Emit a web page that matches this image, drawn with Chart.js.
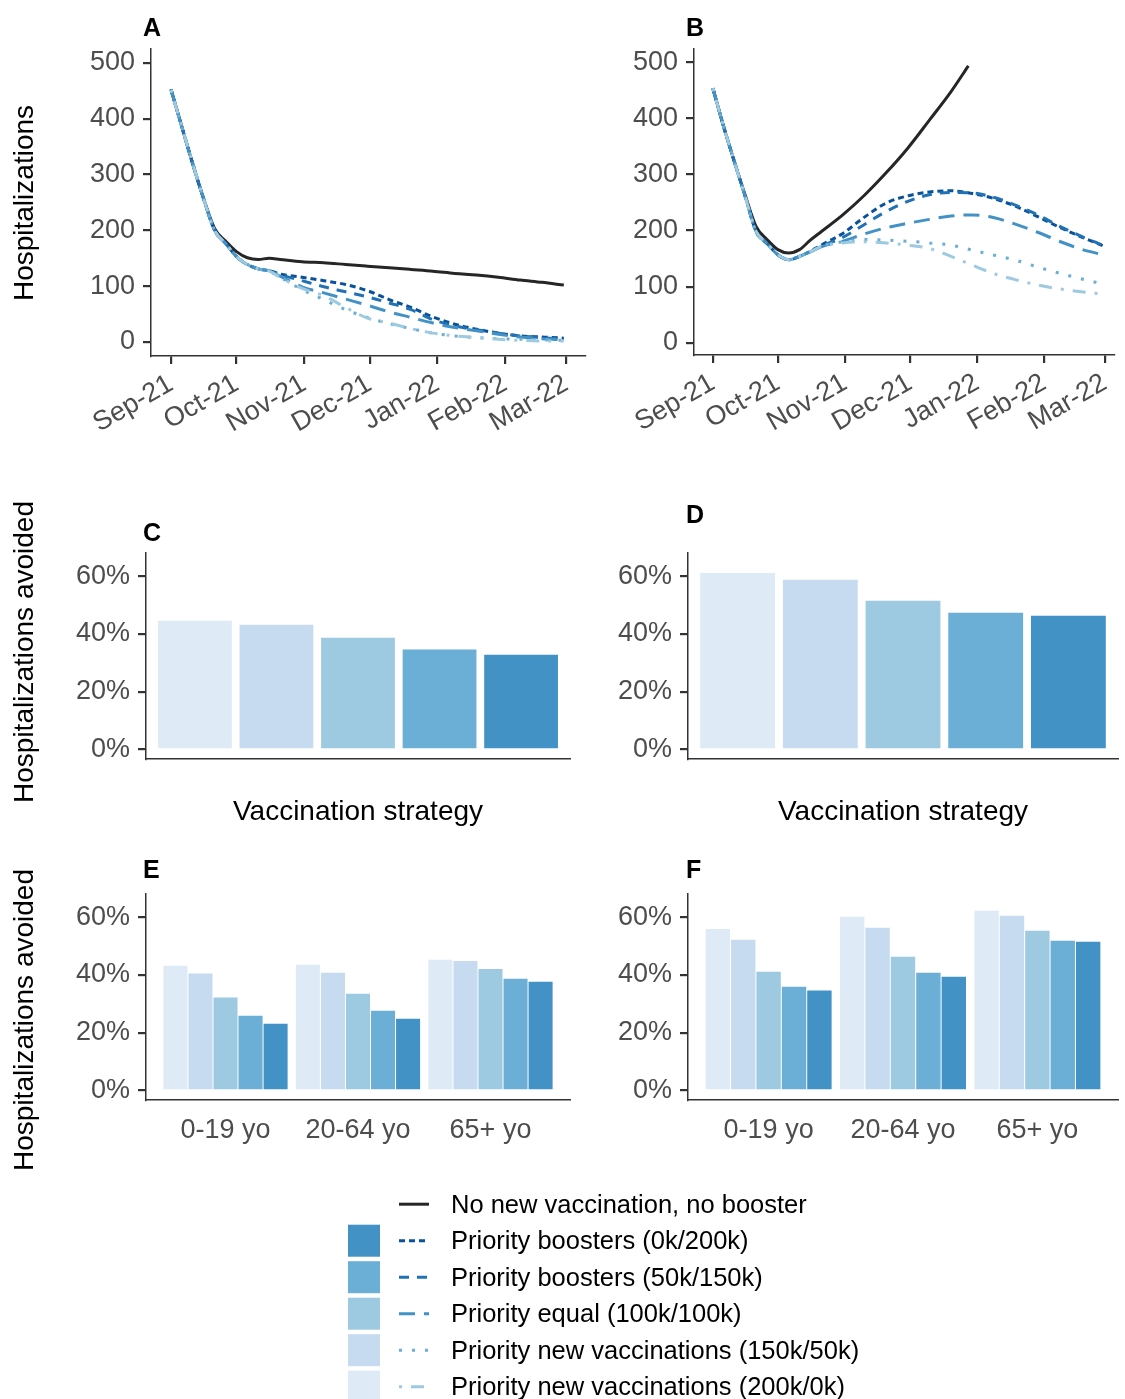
<!DOCTYPE html>
<html><head><meta charset="utf-8">
<script src="https://cdn.jsdelivr.net/npm/chart.js@4.4.0/dist/chart.umd.min.js"></script>
<style>
html,body{margin:0;padding:0;background:#fff;overflow:hidden;width:1125px;height:1399px;}
body{position:relative;font-family:"Liberation Sans",Arial,Helvetica,sans-serif;}
canvas{position:absolute;}
.t{position:absolute;white-space:nowrap;line-height:1;color:#000;}
.lt{font-weight:bold;font-size:25px;}
.ax{font-size:28px;}
.lg{font-size:25.5px;}
.rot{transform:rotate(-90deg);transform-origin:50% 50%;text-align:center;}
</style></head><body>
<canvas id="cA"></canvas><canvas id="cB"></canvas>
<canvas id="cC"></canvas><canvas id="cD"></canvas>
<canvas id="cE"></canvas><canvas id="cF"></canvas>
<div id="overlay"></div>
<script>
// ---------- data ----------
const strategies = ['Priority new vaccinations (200k/0k)','Priority new vaccinations (150k/50k)','Priority equal (100k/100k)','Priority boosters (50k/150k)','Priority boosters (0k/200k)'];
const noVaxLabel = 'No new vaccination, no booster';
const barColors = ['#deebf7','#c6dbef','#9ecae1','#6baed6','#4292c6'];
const lineColors = ['#9ecae1','#6baed6','#4292c6','#2171b5','#08519c'];
const lineDashes = [[3,9,13,9],[3,10],[16,9],[10,8],[6,4]];
const noVaxColor = '#262626';

const days = [0,5,10,15,20,25,30,35,40,45,50,60,70,80,90,100,110,120,130,140,150,160,170,180];
const monthTickDays = [0,30,61,91,122,153,181];
const monthLabels = ['Sep-21','Oct-21','Nov-21','Dec-21','Jan-22','Feb-22','Mar-22'];
const hospTicks = [0,100,200,300,400,500];
const pctTicks = [0,20,40,60];
const ageGroups = ['0-19 yo','20-64 yo','65+ yo'];

// Panel A (hospitalizations)
const aNoVax    = [453,385,318,256,203,181,162,151,148,150,148,144,142,139,136,133,130,127,123,120,116,111,107,102];
const aNew200k  = [452,385,319,256,200,177,153,139,131,127,116,96,83,62,43,34,24,16,11,8,5,3,2,2];
const aNew150k  = [452,385,319,256,200,177,153,139,131,127,116,94,76,58,44,33,24,16,11,8,6,5,4,3];
const aEqual    = [452,385,319,256,200,177,153,139,131,127,118,99,88,77,66,54,44,34,26,20,14,9,6,4];
const aBoost150 = [452,385,319,256,200,177,153,139,131,128,121,110,99,90,81,70,58,40,29,22,16,11,8,5];
const aBoost200 = [452,385,319,256,200,177,153,139,131,128,122,116,110,103,92,76,62,45,32,23,16,11,9,7];

// Panel B (hospitalizations)
const bNoVaxDays = [0,5,10,15,20,25,30,35,40,45,50,60,70,80,90,100,110,118];
const bNoVax     = [454,385,322,262,207,184,166,160,166,183,198,228,263,303,347,397,448,494];
const bNew200k  = [454,385,322,260,198,177,157,148,154,162,172,178,180,178,174,168,154,138,123,112,103,96,91,87];
const bNew150k  = [454,385,322,260,198,177,157,148,154,162,172,180,184,183,181,178,174,165,156,147,135,124,114,105];
const bEqual    = [454,385,322,260,198,177,157,148,154,162,171,181,194,205,213,220,226,228,223,211,197,181,167,157];
const bBoost150 = [454,385,322,260,198,177,157,148,154,162,172,188,211,234,252,264,268,267,259,245,228,208,190,174];
const bBoost200 = [454,385,322,260,198,177,157,148,154,163,174,195,224,249,262,269,271,266,257,243,225,206,189,173];

// Panels C, D (% hospitalizations avoided, order = strategies)
const cAvoided = [44.6,43.2,38.7,34.6,32.8];
const dAvoided = [61.2,58.8,51.5,47.4,46.3];

// Panels E, F (% avoided by age group, one array per strategy)
const eNew200k  = [43.2,43.6,45.3];
const eNew150k  = [40.5,40.8,44.9];
const eEqual    = [32.2,33.5,42.1];
const eBoost150 = [25.9,27.6,38.7];
const eBoost200 = [23.1,24.8,37.7];
const fNew200k  = [56.0,60.2,62.3];
const fNew150k  = [52.2,56.4,60.6];
const fEqual    = [41.1,46.3,55.4];
const fBoost150 = [35.9,40.8,51.9];
const fBoost200 = [34.6,39.4,51.5];

// ---------- drawing ----------
const FONT = '"Liberation Sans", Arial, Helvetica, sans-serif';
const TICKC = '#4d4d4d';
const AXC = '#333333';

function setup(id, box) {
  const c = document.getElementById(id);
  c.width = box.w; c.height = box.h;
  c.style.left = box.x + 'px'; c.style.top = box.y + 'px';
  c.style.width = box.w + 'px'; c.style.height = box.h + 'px';
  return c;
}

function baseY(ticks, ymin, ymax, yw, fmt) {
  return {
    type: 'linear', min: ymin, max: ymax,
    afterBuildTicks: s => { s.ticks = ticks.map(v => ({value: v})); },
    afterFit: s => { s.width = yw; },
    grid: {display: true, drawOnChartArea: false, drawTicks: true, tickLength: 8, color: AXC, lineWidth: 2.2},
    border: {display: true, color: AXC, width: 1.5},
    ticks: {font: {size: 27, family: FONT}, color: TICKC, padding: 8, callback: fmt}
  };
}

function lineChart(id, box, area, xmin, xmax, ymin, ymax, series, noVaxDays, noVax) {
  const c = setup(id, box);
  const datasets = series.map((vals, k) => ({
    data: vals.map((v, i) => ({x: days[i], y: v})),
    borderColor: lineColors[k], borderDash: lineDashes[k], borderWidth: 3,
    pointRadius: 0, cubicInterpolationMode: 'monotone', fill: false, borderCapStyle: 'butt'
  }));
  datasets.push({
    data: noVax.map((v, i) => ({x: noVaxDays[i], y: v})),
    borderColor: noVaxColor, borderWidth: 3, pointRadius: 0,
    cubicInterpolationMode: 'monotone', fill: false
  });
  return new Chart(c, {
    type: 'line',
    data: {datasets},
    options: {
      responsive: false, animation: false, devicePixelRatio: 1,
      layout: {padding: {left: 0, top: area.top - box.y, right: box.x + box.w - area.right, bottom: 0}},
      plugins: {legend: {display: false}, tooltip: {enabled: false}},
      scales: {
        x: {
          type: 'linear', min: xmin, max: xmax, offset: false,
          afterBuildTicks: s => { s.ticks = monthTickDays.map(v => ({value: v})); },
          afterFit: s => { s.height = box.y + box.h - area.bottom; },
          grid: {display: true, drawOnChartArea: false, drawTicks: true, tickLength: 8, color: AXC, lineWidth: 2.2, offset: false},
          border: {display: true, color: AXC, width: 1.5},
          ticks: {autoSkip: false, minRotation: 30, maxRotation: 30, padding: 4,
                  font: {size: 27, family: FONT}, color: TICKC,
                  callback: (v, i) => monthLabels[i]}
        },
        y: baseY(hospTicks, ymin, ymax, area.left - box.x, v => String(v))
      }
    }
  });
}

function barChart(id, box, area, groups, datasetsVals, single) {
  const c = setup(id, box);
  let datasets;
  if (single) {
    datasets = [{
      data: datasetsVals.map((v, i) => ({x: i + 1, y: v})),
      backgroundColor: barColors, borderWidth: 0,
      categoryPercentage: 1, barPercentage: 0.905
    }];
  } else {
    datasets = datasetsVals.map((vals, k) => ({
      data: vals.map((v, i) => ({x: i + 1, y: v})),
      backgroundColor: barColors[k], borderWidth: 0,
      categoryPercentage: 0.945, barPercentage: 0.96
    }));
  }
  const n = single ? datasetsVals.length : groups.length;
  return new Chart(c, {
    type: 'bar',
    data: {datasets},
    options: {
      responsive: false, animation: false, devicePixelRatio: 1,
      layout: {padding: {left: 0, top: area.top - box.y, right: box.x + box.w - area.right, bottom: 0}},
      plugins: {legend: {display: false}, tooltip: {enabled: false}},
      scales: {
        x: {
          type: 'linear', min: 0.4, max: n + 0.6, offset: false,
          afterBuildTicks: s => { s.ticks = (single ? [] : groups.map((g, i) => ({value: i + 1}))); },
          afterFit: s => { s.height = box.y + box.h - area.bottom; },
          grid: {display: true, drawOnChartArea: false, drawTicks: false, offset: false},
          border: {display: true, color: AXC, width: 1.5},
          ticks: {display: !single, autoSkip: false, maxRotation: 0, minRotation: 0, padding: 14,
                  font: {size: 27, family: FONT}, color: TICKC,
                  callback: (v, i) => groups[i]}
        },
        y: baseY(pctTicks, -3.33, 68.1, area.left - box.x, v => v + '%')
      }
    }
  });
}

lineChart('cA', {x: 0, y: 0, w: 600, h: 450}, {left: 151, right: 585, top: 49, bottom: 356},
  -9.17, 189.7, -25, 525, [aNew200k, aNew150k, aEqual, aBoost150, aBoost200], days, aNoVax);
lineChart('cB', {x: 600, y: 0, w: 525, h: 450}, {left: 694, right: 1124, top: 49, bottom: 355},
  -8.72, 185.5, -22, 524, [bNew200k, bNew150k, bEqual, bBoost150, bBoost200], bNoVaxDays, bNoVax);

barChart('cC', {x: 0, y: 480, w: 600, h: 330}, {left: 146, right: 570, top: 553, bottom: 759}, null, cAvoided, true);
barChart('cD', {x: 600, y: 480, w: 525, h: 330}, {left: 688, right: 1118, top: 553, bottom: 759}, null, dAvoided, true);
barChart('cE', {x: 0, y: 860, w: 600, h: 300}, {left: 146, right: 570, top: 894, bottom: 1100}, ageGroups,
  [eNew200k, eNew150k, eEqual, eBoost150, eBoost200], false);
barChart('cF', {x: 600, y: 860, w: 525, h: 300}, {left: 688, right: 1118, top: 894, bottom: 1100}, ageGroups,
  [fNew200k, fNew150k, fEqual, fBoost150, fBoost200], false);

// ---------- text overlays ----------
const ov = document.getElementById('overlay');
function text(str, cls, left, top, extra) {
  const d = document.createElement('div');
  d.className = 't ' + cls; d.textContent = str;
  d.style.left = left + 'px'; d.style.top = top + 'px';
  if (extra) Object.assign(d.style, extra);
  ov.appendChild(d); return d;
}
function capTop(y, f) { return y - 0.1305 * f; }

// panel letters
[['A',143,18],['B',686,18],['C',143,523],['D',686,505],['E',143,860],['F',686,860]]
  .forEach(([s,x,y]) => text(s, 'lt', x, capTop(y, 25)));

// rotated y titles
function rotTitle(str, cx, cy) {
  const w = 400, h = 32;
  text(str, 'ax rot', cx - w / 2, cy - h / 2, {width: w + 'px', height: h + 'px', lineHeight: h + 'px'});
}
rotTitle('Hospitalizations', 24, 202.5);
rotTitle('Hospitalizations avoided', 24, 652);
rotTitle('Hospitalizations avoided', 24, 1019.5);

// x titles
function centered(str, cls, cx, top) {
  text(str, cls, cx - 200, top, {width: '400px', textAlign: 'center'});
}
centered('Vaccination strategy', 'ax', 358, capTop(801, 28));
centered('Vaccination strategy', 'ax', 903, capTop(801, 28));

// legend
const legendLabels = [noVaxLabel].concat(strategies.slice().reverse());
const legendColors = [noVaxColor].concat(lineColors.slice().reverse());
const legendDashes = [[]].concat(lineDashes.slice().reverse());
const legendFills = [null].concat(barColors.slice().reverse());
const svgNS = 'http://www.w3.org/2000/svg';
const svg = document.createElementNS(svgNS, 'svg');
svg.setAttribute('width', 1125); svg.setAttribute('height', 1399);
Object.assign(svg.style, {position: 'absolute', left: '0px', top: '0px'});
ov.appendChild(svg);
legendLabels.forEach((lab, i) => {
  const cap = 1195 + i * 36.5;
  const cy = cap + 9.2;
  text(lab, 'lg', 451, capTop(cap, 25.5));
  const ln = document.createElementNS(svgNS, 'line');
  ln.setAttribute('x1', 399); ln.setAttribute('x2', 429);
  ln.setAttribute('y1', cy); ln.setAttribute('y2', cy);
  ln.setAttribute('stroke', legendColors[i]); ln.setAttribute('stroke-width', 3);
  if (legendDashes[i].length) ln.setAttribute('stroke-dasharray', legendDashes[i].join(' '));
  svg.appendChild(ln);
  if (legendFills[i]) {
    const r = document.createElementNS(svgNS, 'rect');
    r.setAttribute('x', 348); r.setAttribute('y', cy - 16);
    r.setAttribute('width', 32); r.setAttribute('height', 32);
    r.setAttribute('fill', legendFills[i]);
    svg.insertBefore(r, svg.firstChild);
  }
});
</script>
</body></html>
